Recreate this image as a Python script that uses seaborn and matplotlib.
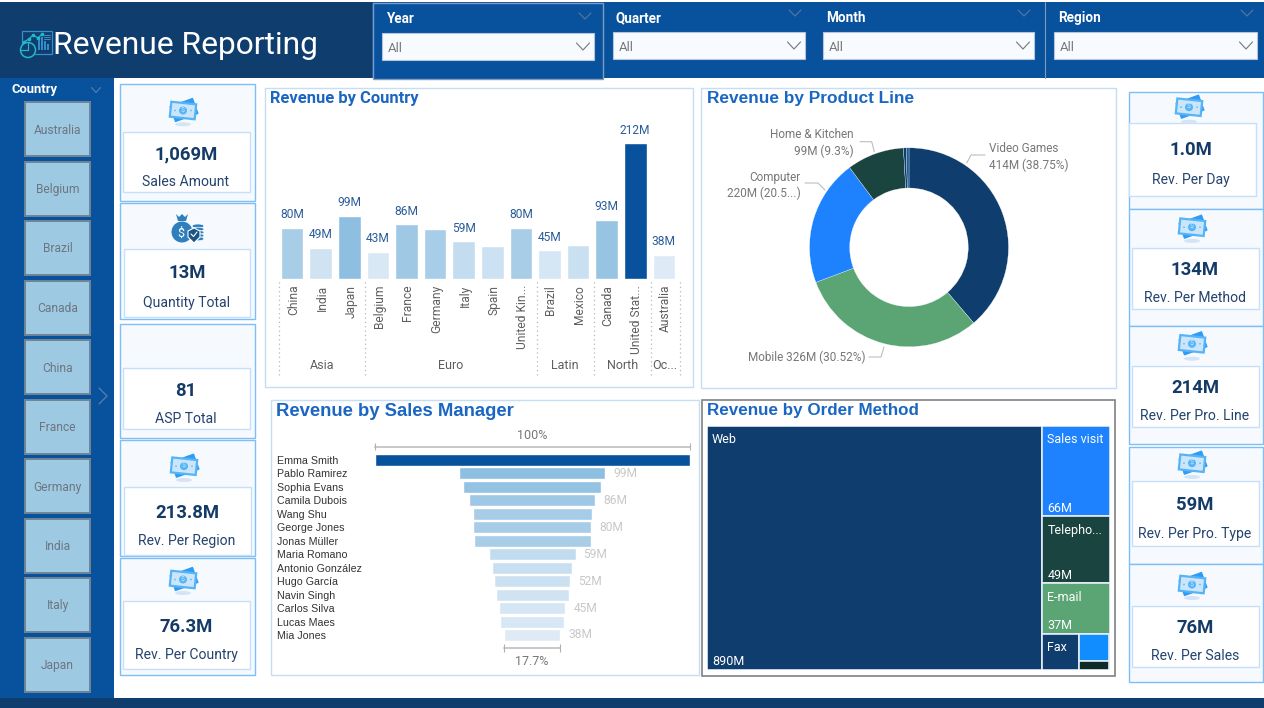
import matplotlib
matplotlib.use("Agg")
import matplotlib.pyplot as plt
import seaborn as sns
import numpy as np
import pandas as pd
from matplotlib.colors import LinearSegmentedColormap, Normalize
from matplotlib.patches import Rectangle, Polygon, Ellipse, Circle
from matplotlib.transforms import ScaledTranslation

W, H = 1264, 708
PT = 0.72  # one pixel in points at dpi 100

NAVY = "#0F3D6E"
BLUE = "#08519C"
TITLE = "#1A66C2"
PANEL_EDGE = "#C6DDF6"
CARD_EDGE = "#7FBDF5"
CARD_FILL = "#F6FAFF"
INK = "#143A66"

# Revenue by country
countries = ["China", "India", "Japan", "Belgium", "France", "Germany", "Italy", "Spain",
             "United Kin...", "Brazil", "Mexico", "Canada", "United Stat...", "Australia"]
country_rev = [80, 49, 99, 43, 86, 79, 59, 52, 80, 45, 54, 93, 212, 38]
country_shown = [1, 1, 1, 1, 1, 0, 1, 0, 1, 1, 0, 1, 1, 1]
groups = ["Asia", "Euro", "Latin", "North", "Oc..."]
group_sizes = [3, 6, 2, 2, 1]

# Revenue by product line
products = ["Video Games", "Mobile", "Computer", "Home & Kitchen", "Other A", "Other B"]
product_rev = [414.2, 326.3, 219.6, 99.4, 4.75, 4.75]
product_colors = [NAVY, "#5BA575", "#1E82FF", "#1A443F", NAVY, "#1A5A96"]

# Revenue by sales manager
managers = ["Emma Smith", "Pablo Ramirez", "Sophia Evans", "Camila Dubois", "Wang Shu", "George Jones",
            "Jonas Müller", "Maria Romano", "Antonio González", "Hugo García", "Navin Singh",
            "Carlos Silva", "Lucas Maes", "Mia Jones"]
manager_rev = [215, 99.4, 94.5, 86.4, 81.4, 80.4, 79.8, 59.4, 54.9, 52.4, 49.8, 45.4, 43.9, 38]
manager_shown = [0, 1, 0, 1, 0, 1, 0, 1, 0, 1, 0, 1, 0, 1]

# Revenue by order method
methods = ["Web", "Sales visit", "Telepho...", "E-mail"]
method_rev = [890, 66, 49, 37]
method_colors = [NAVY, "#1E82FF", "#1A443F", "#5BA575"]
small_methods = ["Fax", "", ""]
small_rev = [14, 9, 3]
small_colors = [NAVY, "#118DFF", "#0F2B28"]

# Slicers and cards
slicer_countries = ["Australia", "Belgium", "Brazil", "Canada", "China", "France", "Germany",
                    "India", "Italy", "Japan"]
left_values = ["1,069M", "13M", "81", "213.8M", "76.3M"]
left_labels = ["Sales Amount", "Quantity Total", "ASP Total", "Rev. Per Region", "Rev. Per Country"]
right_values = ["1.0M", "134M", "214M", "59M", "76M"]
right_labels = ["Rev. Per Day", "Rev. Per Method", "Rev. Per Pro. Line", "Rev. Per Pro. Type", "Rev. Per Sales"]

sns.set_theme(style="white")
plt.rcParams["font.family"] = ["Roboto", "DejaVu Sans"]

fig = plt.figure(figsize=(W / 100, H / 100), dpi=100, facecolor="white")


def px_axes(x0, y0, x1, y1, **kw):
    # axes placed with pixel edges measured from the top left corner
    ax = fig.add_axes([x0 / W, 1 - y1 / H, (x1 - x0) / W, (y1 - y0) / H], **kw)
    ax.patch.set_alpha(0)
    return ax


bg = px_axes(0, 0, W, H)
bg.set_xlim(0, W)
bg.set_ylim(H, 0)
bg.axis("off")


def box(x0, y0, x1, y1, fc="none", ec="none", lw=1.0, zorder=1):
    bg.add_patch(Rectangle((x0, y0), x1 - x0, y1 - y0, fc=fc, ec=ec, lw=lw, zorder=zorder))


def label(x, y, s, size, color, weight="normal", ha="center", family=None, rotation=0):
    kw = {"family": family} if family else {}
    bg.text(x, y + 1, s, fontsize=size * PT, color=color, weight=weight, ha=ha, va="center",
            rotation=rotation, zorder=5, **kw)


def chevron(x, y, w, h, color, lw=0.8):
    bg.plot([x - w, x, x + w], [y - h, y + h, y - h], color=color, lw=lw, zorder=5)


def bill_icon(cx, cy, ey):
    def rot_rect(x, y, w, h, deg):
        a = np.radians(deg)
        pts = np.array([[-w, -h], [w, -h], [w, h], [-w, h]])
        rot = np.array([[np.cos(a), -np.sin(a)], [np.sin(a), np.cos(a)]])
        return pts @ rot.T + [x, y]
    bg.add_patch(Ellipse((cx, ey), 16, 4, fc="#D5E3F7", ec="none", zorder=3))
    bg.add_patch(Polygon(rot_rect(cx + 1, cy, 12, 8, -20), fc="#2E9BF5", ec="#2E9BF5", lw=0.8, zorder=3))
    bg.add_patch(Polygon(rot_rect(cx, cy + 0.5, 12.5, 7.5, 6), fc="#CBE6FB", ec="#55B4F7", lw=1.6, zorder=3))
    bg.add_patch(Circle((cx, cy + 0.5), 4, fc="#55B4F7", ec="none", zorder=4))
    bg.text(cx, cy + 0.5, "$", fontsize=5, color="#CBE6FB", ha="center", va="center", zorder=5)
    for dx in (-8, 8):
        bg.add_patch(Circle((cx + dx, cy + 0.5), 0.8, fc="#55B4F7", ec="none", zorder=4))


def bag_icon(cx, cy):
    c = "#2F7FBF"
    bg.add_patch(Circle((cx - 5, cy + 4), 10.5, fc=c, ec="none", zorder=3))
    bg.add_patch(Polygon([(cx - 11, cy - 14), (cx - 8, cy - 11), (cx - 5, cy - 14), (cx - 2, cy - 11), (cx + 1, cy - 14),
                          (cx - 1, cy - 7), (cx - 9, cy - 7)], fc=c, ec="none", zorder=3))
    for i in range(5):
        bg.add_patch(Ellipse((cx + 11, cy - 2 + i * 3.2), 12, 4, fc=c, ec="white", lw=0.5, zorder=3))
    bg.add_patch(Polygon([(cx + 1, cy + 3), (cx + 7, cy), (cx + 13, cy + 3), (cx + 13, cy + 9), (cx + 7, cy + 15), (cx + 1, cy + 9)],
                         fc="#1B5485", ec="white", lw=0.8, zorder=4))
    bg.plot([cx + 4, cx + 6.5, cx + 10], [cy + 6, cy + 8.5, cy + 4], color="white", lw=0.8, zorder=5)
    bg.text(cx - 6, cy + 5, "$", fontsize=9, color="white", ha="center", va="center", zorder=5)


# page furniture
box(0, 2, 372, 78, fc=NAVY)
box(372, 2, W, 78, fc=BLUE)
box(0, 78, 114, 698, fc=BLUE)
box(0, 698, W, H, fc=NAVY)
box(372.5, 3, 603, 79, fc=BLUE, ec="#7F9CC0", lw=1.0, zorder=2)
bg.plot([1044.5, 1044.5], [2, 78], color="#7F9CC0", lw=0.8, zorder=2)

# header icon
teal = "#24B8CC"
box(22, 31, 52, 54, ec="#3A8FC8", lw=0.9, zorder=3)
bg.plot([24, 29, 33, 38, 42], [42, 39, 35, 38, 34], color=teal, lw=0.9, zorder=4, marker="o", ms=1.6)
for bx, bh in zip([38, 41, 44, 47], [10, 13, 9, 6]):
    box(bx, 50 - bh, bx + 2, 50, fc="#2E8FC8", zorder=4)
for ly in (35, 37, 39):
    bg.plot([44, 50], [ly, ly], color="#3A8FC8", lw=0.7, zorder=4)
bg.add_patch(Circle((28, 50), 7.5, fc=NAVY, ec=teal, lw=1.1, zorder=5))
bg.plot([21, 28, 28], [50, 50, 43], color=teal, lw=0.9, zorder=6)
label(53, 44, "Revenue Reporting", 31.8, "white", ha="left")

# filter slicers
filters = [("Year", 386, 18, 382, 594, 33, 60, 585, 16), ("Quarter", 616, 17, 613, 805, 32, 59, 795, 13),
           ("Month", 826, 17, 823, 1034, 32, 59, 1024, 13), ("Region", 1058, 17, 1054, 1257, 32, 59, 1247, 13)]
for name, tx, ty, x0, x1, y0, y1, cx, cy in filters:
    label(tx, ty, name, 13.5, "white", weight="bold", ha="left")
    chevron(cx, cy, 6, 3, "#5B7799")
    box(x0, y0, x1, y1, fc="#F7FAFE", ec="#B5C6DC", lw=0.8, zorder=3)
    label(x0 + 6, (y0 + y1) / 2 + 1, "All", 13, "#777777", ha="left")
    chevron(x1 - 11, (y0 + y1) / 2, 6.5, 3.5, "#777777")

# country slicer
label(12, 89, "Country", 13, "white", weight="bold", ha="left")
chevron(96, 90, 4.5, 2.5, "#5B7FA8")
for i, name in enumerate(slicer_countries):
    top = 102 + i * 59.5
    box(25, top, 90, top + 54, fc="#9EC9E2", ec="#6F8595", lw=1.4, zorder=3)
    label(57.5, top + 27, name, 12, "#6B7680")
chevron_x = [99, 107, 99]
bg.plot(chevron_x, [388, 396, 404], color="#5F7FA6", lw=0.9, zorder=5)

# KPI cards: outer box, inner box, value y, label y, centre x
left_cards = [((119.5, 83.5, 255, 200.5), (122.5, 131.5, 249.5, 192), 153, 181, 186),
              ((119.5, 202.5, 255, 319), (123.5, 248.5, 250, 316.5), 272, 302, 187),
              ((119.5, 323.5, 255, 438), (122.5, 368, 249.5, 429), 390, 418, 186),
              ((119.5, 439.5, 255, 556), (123.5, 486.7, 250.5, 555), 512, 540, 187),
              ((119.5, 557.5, 255, 675), (122.5, 600.7, 249.5, 668.7), 626, 654, 186)]
right_cards = [((1128.5, 92.3, 1263, 209), (1128.5, 123, 1255.7, 195.7), 149, 179, 1191),
               ((1128.5, 209, 1263, 326), (1131.7, 248.3, 1258.7, 309), 269, 297, 1195),
               ((1128.5, 326, 1263, 444), (1131.7, 365.7, 1258.7, 426.7), 387, 415, 1195),
               ((1128.5, 447.3, 1263, 564.3), (1131.7, 480.7, 1258.7, 545.7), 504, 533, 1195),
               ((1128.5, 564.3, 1263, 682.3), (1131.7, 605.7, 1258.7, 666.7), 627, 655, 1195)]
for cards, vals, labs in ((left_cards, left_values, left_labels), (right_cards, right_values, right_labels)):
    for (outer, inner, vy, ly, cx), v, l in zip(cards, vals, labs):
        box(*outer, fc=CARD_FILL, ec=CARD_EDGE, lw=1.0, zorder=1)
        box(*inner, fc="white", ec="#C6E0FB", lw=1.0, zorder=2)
        label(cx, vy, v, 18.5, INK, weight="bold")
        label(cx, ly, l, 14, "#24436E")

for cx, cy, ey in [(183, 110, 124.3), (184, 465.7, 480), (183, 579, 593), (1189, 106.7, 121.7),
                   (1192, 226.7, 241), (1192, 343.3, 358.7), (1192, 462.7, 477), (1192, 584, 598)]:
    bill_icon(cx, cy, ey)
bag_icon(187, 228)

# chart panels
box(264.5, 87.5, 693, 387, fc="white", ec=PANEL_EDGE, lw=1.0)
box(701, 87.5, 1116, 387.5, fc="white", ec=PANEL_EDGE, lw=1.0)
box(270.5, 400, 699, 674.5, fc="white", ec=PANEL_EDGE, lw=1.0)
box(701.5, 400, 1115, 676, fc="white", ec="#808080", lw=1.2)
label(270, 98, "Revenue by Country", 16.5, TITLE, weight="bold", ha="left")
label(707, 97, "Revenue by Product Line", 17.2, TITLE, weight="bold", ha="left", family="Liberation Sans")
label(276.5, 410, "Revenue by Sales Manager", 18.5, TITLE, weight="bold", ha="left", family="Liberation Sans")
label(707, 409, "Revenue by Order Method", 17, TITLE, weight="bold", ha="left", family="Liberation Sans")

# shared blue ramp for the two bar charts
ramp = LinearSegmentedColormap.from_list("ramp", [(0, "#DEEBF7"), (0.35, "#8EBFE0"), (1, BLUE)])
ramp_norm = Normalize(38, 212, clip=True)

# revenue by country columns
ax = px_axes(277.8, 143.3, 678.1, 279.3)
df = pd.DataFrame({"country": countries, "rev": country_rev})
sns.barplot(data=df, x="country", y="rev", hue="country", legend=False, ax=ax, width=0.79, saturation=1,
            palette=[ramp(ramp_norm(v)) for v in country_rev])
ax.set_xlim(-0.5, len(countries) - 0.5)
ax.set_ylim(0, max(country_rev))
ax.set(xlabel="", ylabel="", yticks=[])
sns.despine(ax=ax, left=True, bottom=True)
ax.tick_params(axis="x", length=0, pad=4, labelsize=12 * PT, labelcolor="#605E5C", rotation=90)
nudge = ScaledTranslation(1.5 / 100, 0, fig.dpi_scale_trans)
for t in ax.get_xticklabels():
    t.set_transform(t.get_transform() + nudge)
for i, (v, show) in enumerate(zip(country_rev, country_shown)):
    if show:
        ax.annotate(f"{v}M", (i, v), xytext=(0, 13), textcoords="offset pixels", ha="center", va="center",
                    fontsize=12 * PT, color="#2A5C9A", annotation_clip=False)
edges = np.concatenate([[0], np.cumsum(group_sizes)]) - 0.45
ax.vlines(edges, -0.70, 0, transform=ax.get_xaxis_transform(), color="#B8B8B8", lw=0.9, ls=(0, (1, 2.5)), clip_on=False)
for g, a, b in zip(groups, edges[:-1], edges[1:]):
    ax.text((a + b) / 2, -0.635, g, transform=ax.get_xaxis_transform(), ha="center", va="center",
            fontsize=12.5 * PT, color="#605E5C")

# revenue by product line donut
ax = px_axes(809.5, 147.8, 1008.5, 346.8)
ax.pie(product_rev, colors=product_colors, startangle=90, counterclock=False, radius=1,
       wedgeprops={"width": 0.404, "edgecolor": "white", "linewidth": 0.2})
ax.set_xlim(-1, 1)
ax.set_ylim(-1, 1)
total_products = sum(product_rev)
gray = "#777777"
fs = 11.7
label(989, 148, products[0], fs, gray, ha="left")
label(989, 164, f"{product_rev[0]:.0f}M ({100 * product_rev[0] / total_products:.2f}%)", fs, gray, ha="left")
label(854, 134, products[3], fs, gray, ha="right")
label(854, 150, f"{product_rev[3]:.0f}M ({100 * product_rev[3] / total_products:.1f}%)", fs, gray, ha="right")
label(801, 176, products[2], fs, gray, ha="right")
label(801, 192, f"{product_rev[2]:.0f}M (20.5...)", fs, gray, ha="right")
label(865, 356, f"{products[1]} {product_rev[1]:.0f}M ({100 * product_rev[1] / total_products:.2f}%)", fs, gray, ha="right")
for xs, ys in [([966.7, 971, 985], [163, 155, 155]), ([860, 871.7, 874.3], [141.7, 141.7, 151.7]),
               ([805, 818, 825], [183, 183, 190]), ([869, 881, 884], [357, 357, 347])]:
    bg.plot(xs, ys, color="#BDBDBD", lw=0.8, zorder=5)

# revenue by sales manager funnel
ax = px_axes(374.8, 453.3, 689.5, 641.7)
df = pd.DataFrame({"manager": managers, "rev": manager_rev})
sns.barplot(data=df, x="rev", y="manager", hue="manager", legend=False, ax=ax, width=0.89, saturation=1,
            palette=[ramp(ramp_norm(v)) for v in manager_rev])
for bar, v in zip(ax.patches, manager_rev):
    bar.set_x(-v / 2)
top = manager_rev[0] / 2
ax.set_xlim(-top, top)
ax.set_ylim(len(managers) - 0.5, -0.5)
ax.set(xlabel="", ylabel="", xticks=[])
sns.despine(ax=ax, left=True, bottom=True)
ax.tick_params(axis="y", length=0, pad=98 * PT, labelsize=10.6 * PT, labelcolor="#333333")
for t in ax.get_yticklabels():
    t.set_ha("left")
    t.set_family("Liberation Sans")
for i, (v, show) in enumerate(zip(manager_rev, manager_shown)):
    if show:
        ax.annotate(f"{v:.0f}M", (v / 2, i), xytext=(8, 0), textcoords="offset pixels", ha="left", va="center",
                    fontsize=12 * PT, color="#C8C8C8", annotation_clip=False)
last = manager_rev[-1] / 2
n = len(managers)
for half, y, txt, ty in [(top, -0.99, "100%", -1.8),
                         (last, n - 0.03, f"{100 * manager_rev[-1] / manager_rev[0]:.1f}%", n + 0.99)]:
    ax.plot([-half, half], [y, y], color="#C8C8C8", lw=1.4, clip_on=False)
    ax.vlines([-half, half], y - 0.27, y + 0.27, color="#B0B0B0", lw=0.8, clip_on=False)
    ax.text(0, ty, txt, ha="center", va="center", fontsize=12.5 * PT, color="#777777")

# revenue by order method treemap, laid out from the values
ax = px_axes(707, 426, 1109.5, 669.5)
total = sum(method_rev) + sum(small_rev)
ax.set_xlim(0, 1)
ax.set_ylim(1, 0)
ax.axis("off")
side = total - method_rev[0]


def cell(x, y, w, h, color, name="", value=None):
    ax.add_patch(Rectangle((x, y), w, h, fc=color, ec="#E4EEF8", lw=1.2))
    if name:
        ax.annotate(name, (x, y), xytext=(5, -14), textcoords="offset pixels", ha="left", va="center",
                    fontsize=12.5 * PT, color="white")
    if value is not None:
        ax.annotate(f"{value}M", (x, y + h), xytext=(5, 8), textcoords="offset pixels", ha="left", va="center",
                    fontsize=12.5 * PT, color="white")


web_w = method_rev[0] / total
cell(0, 0, web_w, 1, method_colors[0], methods[0], method_rev[0])
y = 0
for name, v, c in zip(methods[1:], method_rev[1:], method_colors[1:]):
    cell(web_w, y, 1 - web_w, v / side, c, name, v)
    y += v / side
rest = sum(small_rev)
rest_h = rest / side
fax_w = small_rev[0] / rest * (1 - web_w)
cell(web_w, y, fax_w, rest_h, small_colors[0], small_methods[0])
rest2 = sum(small_rev[1:])
cell(web_w + fax_w, y, 1 - web_w - fax_w, rest_h * small_rev[1] / rest2, small_colors[1])
cell(web_w + fax_w, y + rest_h * small_rev[1] / rest2, 1 - web_w - fax_w, rest_h * small_rev[2] / rest2, small_colors[2])

fig.savefig("out.png", dpi=100)
